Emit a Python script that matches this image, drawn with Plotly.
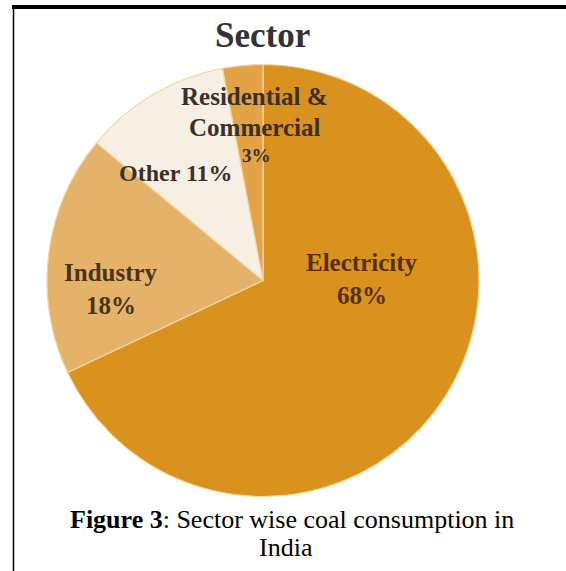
import plotly.graph_objects as go

# ---- data ----
sectors = ["Electricity", "Industry", "Other", "Residential & Commercial"]
shares = [68, 18, 11, 3]
chart_title = "Sector"
caption_bold = "Figure 3"
caption_rest = ": Sector wise coal consumption in"
caption_line2 = "India"

# ---- style ----
W, H = 566, 571
colors = ["#D9921E", "#E5B26A", "#F7EFE4", "#E2A346"]
cx, cy, r = 263, 280.5, 216

def px(x):
    return x / W

def py(y):
    return 1 - y / H

fig = go.Figure(go.Pie(
    labels=sectors,
    values=shares,
    sort=False,
    direction="clockwise",
    rotation=0,
    marker=dict(colors=colors, line=dict(color="#F4D7A4", width=1.2)),
    textinfo="none",
    hoverinfo="label+percent",
    showlegend=False,
    domain=dict(x=[px(cx - r), px(cx + r)], y=[py(cy + r), py(cy - r)]),
))

serif = "Liberation Serif"
dark = "#3a3028"
brown = "#55300e"

ann = []

def add(text, x, y, size, color, bold=True):
    t = f"<b>{text}</b>" if bold else text
    ann.append(dict(text=t, x=px(x), y=py(y), xref="paper", yref="paper",
                    xanchor="center", yanchor="middle", showarrow=False,
                    font=dict(family=serif, size=size, color=color)))

# title
add(chart_title, 262, 35, 35, "#333333")

# slice labels (text from the data arrays)
add(sectors[0], 362, 262, 25, brown)
add(f"{shares[0]}%", 362, 295, 25, brown)
add(sectors[1], 111, 272, 25, "#4a3418")
add(f"{shares[1]}%", 111, 305, 25, "#4a3418")
add(f"{sectors[2]} {shares[2]}%", 176, 173, 24, dark)
res_words = sectors[3].split(" ")
add(" ".join(res_words[:2]), 254, 96, 25, dark)
add(res_words[2], 254, 127, 25, dark)
add(f"{shares[3]}%", 256, 156, 19, dark)

# caption
ann.append(dict(text=f"<b>{caption_bold}</b>{caption_rest}", x=px(292), y=py(519),
                xref="paper", yref="paper", xanchor="center", yanchor="middle",
                showarrow=False, font=dict(family=serif, size=26, color="black")))
ann.append(dict(text=caption_line2, x=px(286), y=py(547),
                xref="paper", yref="paper", xanchor="center", yanchor="middle",
                showarrow=False, font=dict(family=serif, size=26, color="black")))

shapes = [
    dict(type="line", xref="paper", yref="paper", x0=px(12), x1=1, y0=py(7), y1=py(7),
         line=dict(color="black", width=4)),
    dict(type="line", xref="paper", yref="paper", x0=px(13.5), x1=px(13.5), y0=py(5), y1=0,
         line=dict(color="black", width=1.5)),
]

fig.update_layout(
    width=W, height=H,
    margin=dict(l=0, r=0, t=0, b=0),
    paper_bgcolor="white", plot_bgcolor="white",
    annotations=ann, shapes=shapes,
)

fig.write_html("out.html",
               config={"displayModeBar": False},
               post_script="document.body.style.margin='0';document.body.style.overflow='hidden';")
